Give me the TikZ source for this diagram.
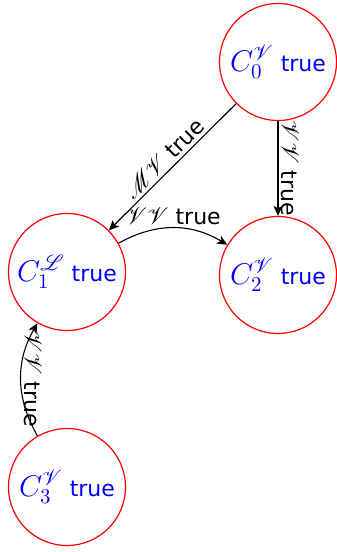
\RequirePackage{fix-cm}
\documentclass[tikz,border=0pt]{standalone}
\usepackage[no-math]{fontspec}
\setmainfont{DejaVu Sans}
\usepackage{mathrsfs}
\usetikzlibrary{arrows.meta}
\newcommand{\nodemath}[1]{{\fontsize{15}{17}\selectfont$#1$}}
\newcommand{\edgemath}[1]{{\fontsize{12}{14}\selectfont$#1$}}
\begin{document}
\begin{tikzpicture}[x=1pt,y=1pt,
  state/.style={circle, draw=red, line width=0.6pt, minimum size=58.5pt, inner sep=0pt, text=blue, font=\fontsize{11}{13}\selectfont},
  conn/.style={line width=0.55pt, -{Stealth[length=5pt,width=4.5pt,inset=1.2pt]}},
  lab/.style={font=\fontsize{11}{13}\selectfont, inner sep=1.5pt}]
\useasboundingbox (0,0) rectangle (168.5,276);
\node[state] (C0) at (139,245) {\nodemath{C_0^{\mathscr{V}}} true};
\node[state] (C1) at (33.5,140) {\nodemath{C_1^{\mathscr{L}}} true};
\node[state] (C2) at (139,138.5) {\nodemath{C_2^{\mathscr{V}}} true};
\node[state] (C3) at (33.5,32.5) {\nodemath{C_3^{\mathscr{V}}} true};
\draw[conn] (C0) -- node[lab, sloped, above] {\edgemath{\mathscr{MV}} true} (C1);
\draw[conn] (C0) -- node[lab, midway, anchor=south, rotate=-90] {\edgemath{\mathscr{VV}} true} (C2);
\draw[conn] (C1) to[bend left=30] node[lab, above] {\edgemath{\mathscr{VV}} true} (C2);
\draw[conn] (C3) to[bend left=30] node[lab, midway, anchor=south, rotate=-90] {\edgemath{\mathscr{VV}} true} (C1);
\end{tikzpicture}
\end{document}
